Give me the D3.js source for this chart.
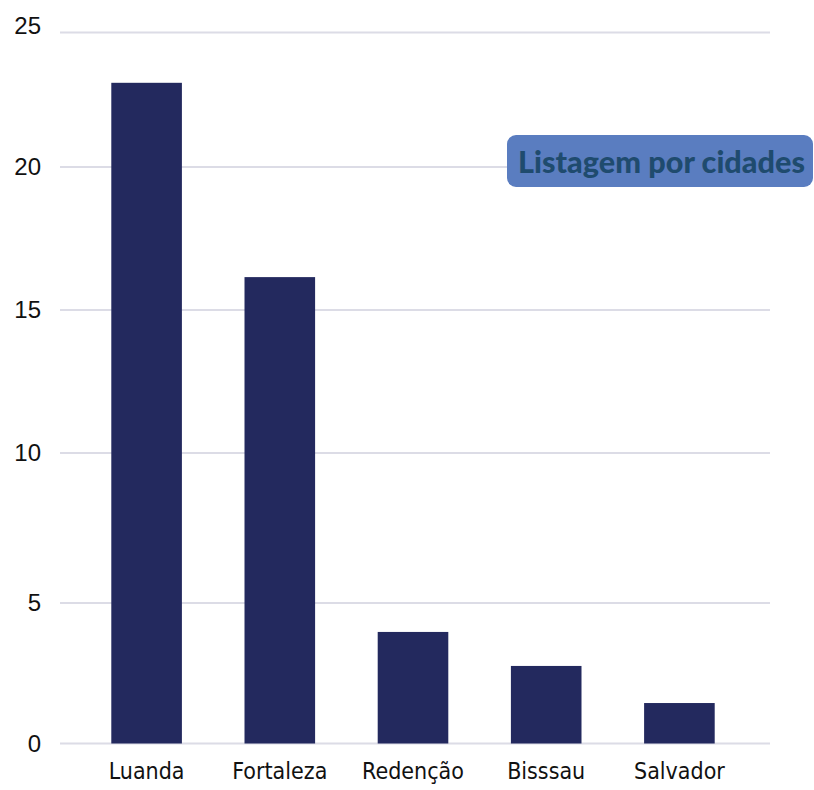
<!DOCTYPE html>
<html>
<head>
<meta charset="utf-8">
<script src="https://cdn.jsdelivr.net/npm/d3@7"></script>
<style>
  body { margin: 0; background: #fff; }
</style>
</head>
<body>
<div id="chart"></div>
<script>
// data
const cities = ["Luanda", "Fortaleza", "Redenção", "Bisssau", "Salvador"];
const counts = [23.13, 16.15, 3.97, 2.76, 1.44];
const yTicks = [0, 5, 10, 15, 20, 25];
const title = "Listagem por cidades";

const width = 814, height = 790;

const svg = d3.select("#chart").append("svg")
  .attr("width", width)
  .attr("height", height);

const x = d3.scaleBand()
  .domain(cities)
  .range([80, 746])
  .paddingInner(0.47)
  .paddingOuter(0.235);

// the source axis is not evenly spaced, so map each tick to its own gridline
const y = d3.scaleLinear()
  .domain(yTicks)
  .range([743.5, 603, 453, 310, 167, 32.5]);

// gridlines
svg.append("g")
  .selectAll("line")
  .data(yTicks)
  .join("line")
  .attr("x1", 60)
  .attr("x2", 770)
  .attr("y1", d => y(d))
  .attr("y2", d => y(d))
  .attr("stroke", "#dcdce6")
  .attr("stroke-width", 2);

// y labels
svg.append("g")
  .selectAll("text")
  .data(yTicks)
  .join("text")
  .attr("x", 41)
  .attr("y", d => y(d) - (d === 25 ? 7 : 0))
  .attr("dy", "0.35em")
  .attr("text-anchor", "end")
  .style("font-family", "'Liberation Sans', Arial, sans-serif")
  .style("font-size", "24px")
  .attr("fill", "#111")
  .text(d => d);

// bars
svg.append("g")
  .selectAll("rect")
  .data(cities)
  .join("rect")
  .attr("x", d => x(d))
  .attr("width", x.bandwidth())
  .attr("y", (d, i) => y(counts[i]))
  .attr("height", (d, i) => y(0) - y(counts[i]))
  .attr("fill", "#23295e");

// x labels
svg.append("g")
  .selectAll("text")
  .data(cities)
  .join("text")
  .attr("x", d => x(d) + x.bandwidth() / 2)
  .attr("y", 779)
  .attr("text-anchor", "middle")
  .style("font-family", "'DejaVu Sans Condensed', sans-serif")
  .style("font-size", "23px")
  .attr("fill", "#111")
  .text(d => d);

// title badge
const badge = svg.append("g");
badge.append("rect")
  .attr("x", 507)
  .attr("y", 135)
  .attr("width", 306)
  .attr("height", 52)
  .attr("rx", 9)
  .attr("fill", "#5a7dc0");
badge.append("text")
  .attr("x", 518)
  .attr("y", 173)
  .attr("textLength", 287)
  .attr("lengthAdjust", "spacingAndGlyphs")
  .style("font-family", "Lato, 'Open Sans', sans-serif")
  .style("font-weight", "900")
  .style("font-size", "31px")
  .attr("fill", "#1f4b6e")
  .text(title);
</script>
</body>
</html>
